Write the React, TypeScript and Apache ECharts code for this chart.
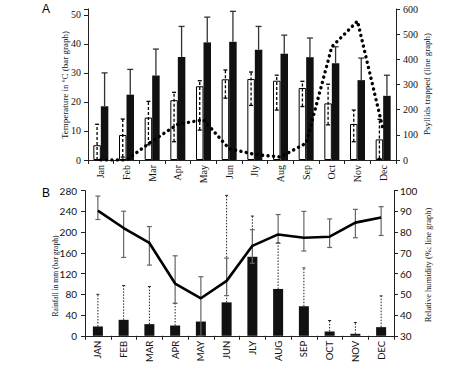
import React, { useEffect, useRef } from "react";
import * as echarts from "echarts";

const monthsA = ["Jan", "Feb", "Mar", "Apr", "May", "Jun", "Jly", "Aug", "Sep", "Oct", "Nov", "Dec"];
const monthsB = ["JAN", "FEB", "MAR", "APR", "MAY", "JUN", "JLY", "AUG", "SEP", "OCT", "NOV", "DEC"];

// Panel A
const tempMin = [5.1, 8.6, 14.6, 20.6, 25.4, 27.8, 27.9, 27.3, 24.8, 19.5, 12.4, 7.1];
const tempMinLow = [0, 1, 5.2, 6.3, 10.3, 21.3, 18.8, 17.2, 18.4, 12.1, 6.3, 0.5];
const tempMinHigh = [12.3, 14.1, 20.2, 23.3, 27.3, 31, 30.3, 29.2, 27.1, 26.1, 17.2, 14];
const tempMax = [18.5, 22.5, 29.1, 35.5, 40.5, 40.7, 38, 36.6, 35.4, 33.3, 27.5, 22.1];
const tempMaxHigh = [30, 31.2, 38.2, 46, 49.2, 51.2, 46, 43, 42, 39, 35.1, 29.2];
const psyllids = [0, 0, 75, 142, 160, 45, 22, 12, 67, 450, 552, 120];

// Panel B
const rain = [18, 30.8, 22.5, 19.8, 27.5, 64.5, 152.5, 90.4, 57, 8.3, 3.8, 16.7];
const rainHigh: (number | null)[] = [80, 97, 95, 62.5, null, 271, 231, 180, 131, 29.5, 25.6, 77];
const humidity = [90.4, 82, 74.8, 55.2, 48.1, 56.5, 73.4, 78.9, 77.3, 77.8, 84.6, 87.1];
const humLow = [86.1, 67.8, 64.1, 45.7, 30, 49.4, 65, 74.6, 70.9, 72.6, 77.3, 78.4];
const humHigh = [97.4, 90.1, 82.7, 68.6, 58.5, 67.5, 81.2, 88.5, 90, 86.4, 91, 92.3];

const SERIF = "Liberation Serif";
const SANS = "Lato";

function makeErr(opts: {
  offset: number;
  color: string;
  width: number;
  dash?: number[];
  capTop: number;
  capBottom: number;
}) {
  return (params: any, api: any) => {
    const i = api.value(0);
    const lo = api.value(1);
    const hi = api.value(2);
    const p1 = api.coord([i, lo]);
    const p2 = api.coord([i, hi]);
    const x = p1[0] + opts.offset;
    const children: any[] = [
      {
        type: "line",
        shape: { x1: x, y1: p1[1], x2: x, y2: p2[1] },
        style: { stroke: opts.color, lineWidth: opts.width, lineDash: opts.dash || null },
      },
    ];
    if (opts.capTop > 0) {
      children.push({
        type: "line",
        shape: { x1: x - opts.capTop / 2, y1: p2[1], x2: x + opts.capTop / 2, y2: p2[1] },
        style: { stroke: opts.color, lineWidth: opts.width },
      });
    }
    if (opts.capBottom > 0) {
      children.push({
        type: "line",
        shape: { x1: x - opts.capBottom / 2, y1: p1[1], x2: x + opts.capBottom / 2, y2: p1[1] },
        style: { stroke: opts.color, lineWidth: opts.width },
      });
    }
    return { type: "group", children };
  };
}

export default function App() {
  const ref = useRef<HTMLDivElement>(null);
  useEffect(() => {
    if (!ref.current) return;
    const chart = echarts.init(ref.current, null, { renderer: "svg" });
    const axisCommon = {
      axisLine: { show: true, lineStyle: { color: "#222", width: 1 } },
      axisTick: { show: true, length: 4, lineStyle: { color: "#222" } },
      splitLine: { show: false },
    };
    const option: any = {
      animation: false,
      backgroundColor: "#fff",
      grid: [
        { left: 88, right: 78, top: 9, height: 151 },
        { left: 85, right: 80, top: 190.7, height: 145.3 },
      ],
      xAxis: [
        {
          type: "category",
          gridIndex: 0,
          data: monthsA,
          ...axisCommon,
          axisLabel: { rotate: 90, interval: 0, fontFamily: SERIF, fontSize: 10, color: "#111", margin: 5 },
        },
        {
          type: "category",
          gridIndex: 1,
          data: monthsB,
          ...axisCommon,
          axisLabel: { rotate: 90, interval: 0, fontFamily: SANS, fontSize: 9.5, color: "#111", margin: 5 },
        },
      ],
      yAxis: [
        {
          type: "value",
          gridIndex: 0,
          min: 0,
          max: 52,
          interval: 10,
          ...axisCommon,
          axisLabel: {
            fontFamily: SERIF,
            fontSize: 10,
            color: "#111",
            margin: 7,
            formatter: (v: number) => (v % 10 === 0 ? String(v) : ""),
          },
        },
        {
          type: "value",
          gridIndex: 0,
          position: "right",
          min: 0,
          max: 600,
          interval: 100,
          ...axisCommon,
          axisLabel: { fontFamily: SERIF, fontSize: 10, color: "#111", margin: 7 },
        },
        {
          type: "value",
          gridIndex: 1,
          min: 0,
          max: 280,
          interval: 40,
          ...axisCommon,
          axisLabel: { fontFamily: SANS, fontSize: 10, color: "#111", margin: 8 },
        },
        {
          type: "value",
          gridIndex: 1,
          position: "right",
          min: 30,
          max: 100,
          interval: 10,
          ...axisCommon,
          axisLabel: { fontFamily: SANS, fontSize: 10, color: "#111", margin: 6 },
        },
      ],
      series: [
        {
          type: "bar",
          xAxisIndex: 0,
          yAxisIndex: 0,
          data: tempMin,
          barWidth: 7.5,
          barGap: "0%",
          itemStyle: { color: "#fff", borderColor: "#000", borderWidth: 1 },
          z: 2,
        },
        {
          type: "bar",
          xAxisIndex: 0,
          yAxisIndex: 0,
          data: tempMax,
          barWidth: 7.5,
          barGap: "0%",
          itemStyle: { color: "#111" },
          z: 2,
        },
        {
          type: "custom",
          xAxisIndex: 0,
          yAxisIndex: 0,
          data: tempMin.map((_, i) => [i, tempMinLow[i], tempMinHigh[i]]),
          encode: { x: 0, y: [1, 2] },
          renderItem: makeErr({ offset: -3.75, color: "#000", width: 1.3, dash: [3, 2], capTop: 4, capBottom: 4 }),
          z: 4,
        },
        {
          type: "custom",
          xAxisIndex: 0,
          yAxisIndex: 0,
          data: tempMax.map((v, i) => [i, v, tempMaxHigh[i]]),
          encode: { x: 0, y: [1, 2] },
          renderItem: makeErr({ offset: 3.75, color: "#333", width: 1.3, capTop: 6, capBottom: 0 }),
          z: 4,
        },
        {
          type: "line",
          xAxisIndex: 0,
          yAxisIndex: 1,
          data: psyllids,
          showSymbol: false,
          symbol: "none",
          lineStyle: { color: "#000", width: 3.4, type: [0.1, 5.4], cap: "round", join: "round" },
          z: 5,
        },
        {
          type: "bar",
          xAxisIndex: 1,
          yAxisIndex: 2,
          data: rain,
          barWidth: 10,
          itemStyle: { color: "#111" },
          z: 2,
        },
        {
          type: "custom",
          xAxisIndex: 1,
          yAxisIndex: 2,
          data: rain
            .map((v, i) => (rainHigh[i] == null ? null : [i, v, rainHigh[i]]))
            .filter((d) => d !== null),
          encode: { x: 0, y: [1, 2] },
          renderItem: makeErr({ offset: 0, color: "#222", width: 1, dash: [1.5, 1.5], capTop: 3, capBottom: 0 }),
          z: 3,
        },
        {
          type: "custom",
          xAxisIndex: 1,
          yAxisIndex: 3,
          data: humidity.map((_, i) => [i, humLow[i], humHigh[i]]),
          encode: { x: 0, y: [1, 2] },
          renderItem: makeErr({ offset: 0, color: "#666", width: 1.2, capTop: 5, capBottom: 5 }),
          z: 4,
        },
        {
          type: "line",
          xAxisIndex: 1,
          yAxisIndex: 3,
          data: humidity,
          showSymbol: false,
          symbol: "none",
          lineStyle: { color: "#000", width: 2.6 },
          z: 5,
        },
      ],
      graphic: [
        { type: "text", x: 42, y: 3, style: { text: "A", fontFamily: "Liberation Sans", fontSize: 12, fill: "#000" } },
        { type: "text", x: 42, y: 187, style: { text: "B", fontFamily: "Liberation Sans", fontSize: 12, fill: "#000" } },
        {
          type: "text",
          x: 65,
          y: 85,
          rotation: Math.PI / 2,
          style: {
            text: "Temperature in ºC (bar graph)",
            fontFamily: SERIF,
            fontSize: 9,
            fill: "#111",
            align: "center",
            verticalAlign: "middle",
          },
        },
        {
          type: "text",
          x: 427,
          y: 84,
          rotation: Math.PI / 2,
          style: {
            text: "Psyllids trapped (line graph)",
            fontFamily: SERIF,
            fontSize: 9,
            fill: "#111",
            align: "center",
            verticalAlign: "middle",
          },
        },
        {
          type: "text",
          x: 55,
          y: 276,
          rotation: Math.PI / 2,
          style: {
            text: "Rainfall in mm (bar graph)",
            fontFamily: SERIF,
            fontSize: 7.5,
            fill: "#111",
            align: "center",
            verticalAlign: "middle",
          },
        },
        {
          type: "text",
          x: 428,
          y: 265,
          rotation: Math.PI / 2,
          style: {
            text: "Relative humidity (%; line graph)",
            fontFamily: SERIF,
            fontSize: 8.5,
            fill: "#111",
            align: "center",
            verticalAlign: "middle",
          },
        },
      ],
    };
    chart.setOption(option);
    return () => chart.dispose();
  }, []);
  return (
    <div
      ref={ref}
      style={{ position: "fixed", left: 0, top: 0, width: 474, height: 365, background: "#fff" }}
    />
  );
}
